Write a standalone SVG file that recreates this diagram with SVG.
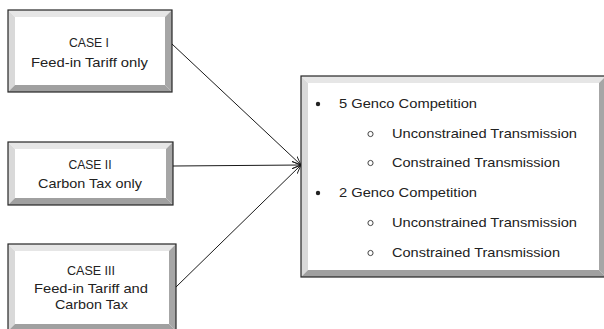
<svg xmlns="http://www.w3.org/2000/svg" width="604" height="329" viewBox="0 0 604 329">
<style>
.face{fill:#ffffff}
.lt{fill:#e6e6e6}
.ll{fill:#d9d9d9}
.dr{fill:#a6a6a6}
.db{fill:#a0a0a0}
.frame{fill:none;stroke:#262626;stroke-width:1.2}
text{font-family:"Liberation Sans",Arial,sans-serif;font-size:13px;fill:#222}
.c{text-anchor:middle;font-size:13.5px}
.conn line{stroke:#1a1a1a;stroke-width:1}
</style>
<defs>
<marker id="ah" viewBox="0 0 10 10" refX="10" refY="5" markerWidth="9" markerHeight="9" markerUnits="userSpaceOnUse" orient="auto">
<path d="M0,1 L10,5 L0,9" fill="none" stroke="#1a1a1a" stroke-width="1"/>
</marker>
</defs>
<rect width="604" height="329" fill="#ffffff"/>

<g id="case1">
<polygon class="lt" points="8,10 172,10 165,17 15,17"/>
<polygon class="ll" points="8,10 15,17 15,85 8,92"/>
<polygon class="dr" points="172,10 172,92 165,85 165,17"/>
<polygon class="db" points="8,92 172,92 165,85 15,85"/>
<rect class="face" x="15" y="17" width="150" height="68"/>
<rect class="frame" x="8" y="10" width="164" height="82"/>
<text class="c" x="89" y="47" textLength="40" lengthAdjust="spacingAndGlyphs">CASE I</text>
<text class="c" x="89.5" y="67" textLength="117" lengthAdjust="spacingAndGlyphs">Feed-in Tariff only</text>
</g>

<g id="case2">
<polygon class="lt" points="8,142 173,142 166,149 15,149"/>
<polygon class="ll" points="8,142 15,149 15,198 8,205"/>
<polygon class="dr" points="173,142 173,205 166,198 166,149"/>
<polygon class="db" points="8,205 173,205 166,198 15,198"/>
<rect class="face" x="15" y="149" width="151" height="49"/>
<rect class="frame" x="8" y="142" width="165" height="63"/>
<text class="c" x="90" y="169" textLength="43" lengthAdjust="spacingAndGlyphs">CASE II</text>
<text class="c" x="90" y="188" textLength="104" lengthAdjust="spacingAndGlyphs">Carbon Tax only</text>
</g>

<g id="case3">
<polygon class="lt" points="8,244 176,244 169,251 15,251"/>
<polygon class="ll" points="8,244 15,251 15,324 8,331"/>
<polygon class="dr" points="176,244 176,331 169,324 169,251"/>
<polygon class="db" points="8,331 176,331 169,324 15,324"/>
<rect class="face" x="15" y="251" width="154" height="73"/>
<rect class="frame" x="8" y="244" width="168" height="87"/>
<text class="c" x="91" y="275" textLength="48" lengthAdjust="spacingAndGlyphs">CASE III</text>
<text class="c" x="91" y="293" textLength="114" lengthAdjust="spacingAndGlyphs">Feed-in Tariff and</text>
<text class="c" x="91.5" y="309" textLength="73" lengthAdjust="spacingAndGlyphs">Carbon Tax</text>
</g>

<g id="outcomes">
<polygon class="lt" points="301,76 606,76 599,83 308,83"/>
<polygon class="ll" points="301,76 308,83 308,270 301,277"/>
<polygon class="dr" points="606,76 606,277 599,270 599,83"/>
<polygon class="db" points="301,277 606,277 599,270 308,270"/>
<rect class="face" x="308" y="83" width="291" height="187"/>
<rect class="frame" x="301" y="76" width="305" height="201"/>
<circle cx="318" cy="104" r="2.2" fill="#222"/>
<text x="339" y="108" textLength="138" lengthAdjust="spacingAndGlyphs">5 Genco Competition</text>
<circle cx="370.5" cy="134" r="2.6" fill="none" stroke="#333" stroke-width="0.9"/>
<text x="392" y="138" textLength="185" lengthAdjust="spacingAndGlyphs">Unconstrained Transmission</text>
<circle cx="370.5" cy="163" r="2.6" fill="none" stroke="#333" stroke-width="0.9"/>
<text x="392" y="167" textLength="168" lengthAdjust="spacingAndGlyphs">Constrained Transmission</text>
<circle cx="318" cy="193" r="2.2" fill="#222"/>
<text x="339" y="197" textLength="138" lengthAdjust="spacingAndGlyphs">2 Genco Competition</text>
<circle cx="370.5" cy="223" r="2.6" fill="none" stroke="#333" stroke-width="0.9"/>
<text x="392" y="227" textLength="185" lengthAdjust="spacingAndGlyphs">Unconstrained Transmission</text>
<circle cx="370.5" cy="253" r="2.6" fill="none" stroke="#333" stroke-width="0.9"/>
<text x="392" y="257" textLength="168" lengthAdjust="spacingAndGlyphs">Constrained Transmission</text>
</g>

<g id="connectors" class="conn">
<line x1="172" y1="44" x2="301" y2="165" marker-end="url(#ah)"/>
<line x1="173" y1="166" x2="301" y2="165" marker-end="url(#ah)"/>
<line x1="176" y1="287" x2="301" y2="165" marker-end="url(#ah)"/>
</g>
</svg>
